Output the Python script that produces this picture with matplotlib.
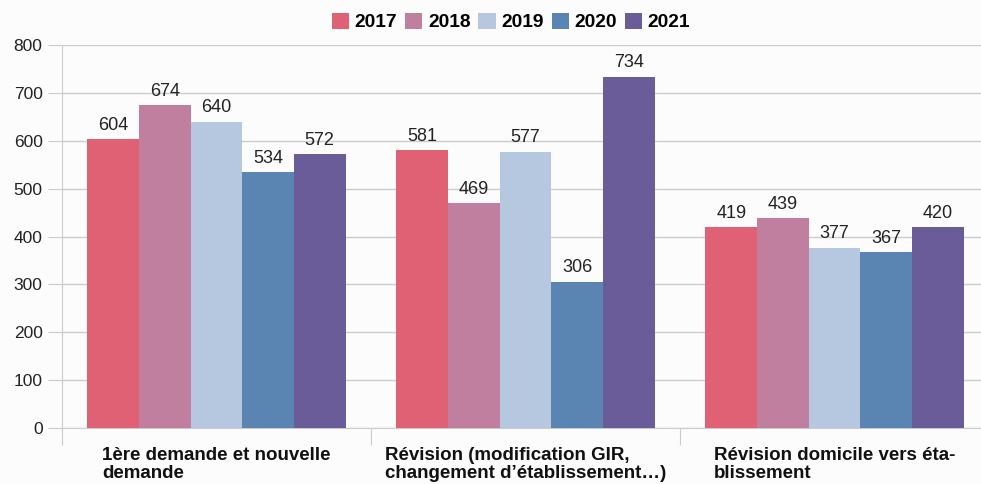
import matplotlib
matplotlib.use("Agg")
import matplotlib.pyplot as plt
import numpy as np
from matplotlib.patches import Patch

categories = ["1ère demande et nouvelle\ndemande",
              "Révision (modification GIR,\nchangement d’établissement…)",
              "Révision domicile vers éta-\nblissement"]
years = ["2017", "2018", "2019", "2020", "2021"]
values = {
    "2017": [604, 581, 419],
    "2018": [674, 469, 439],
    "2019": [640, 577, 377],
    "2020": [534, 306, 367],
    "2021": [572, 734, 420],
}
colors = ["#e06074", "#c07f9e", "#b5c8df", "#5a84b2", "#6a5c98"]
yticks = [0, 100, 200, 300, 400, 500, 600, 700, 800]

plt.rcParams['font.family'] = ['Liberation Sans', 'DejaVu Sans']
fig = plt.figure(figsize=(9.81, 4.84), dpi=100, facecolor="#fcfcfc")
ax = fig.add_axes([62/981, 56/484, (989-62)/981, 383/484])
ax.set_facecolor("#fcfcfc")

x = np.arange(len(categories))
bw = 0.167
for i, y in enumerate(years):
    pos = x + (i - 2) * bw
    bars = ax.bar(pos, values[y], width=bw, color=colors[i], zorder=3)
    for b, v in zip(bars, values[y]):
        ax.text(b.get_x() + b.get_width()/2, v + 11, str(v), ha="center", va="bottom",
                fontsize=13, color="#222222", zorder=4)

ax.set_xlim(-0.5, 2.5)
ax.set_ylim(0, 800)
ax.set_yticks(yticks)
ax.tick_params(axis="y", length=10, color="#cccccc", labelsize=12.5, labelcolor="#222222", pad=4)
ax.grid(axis="y", color="#cccccc", linewidth=1, zorder=0)
for s in ["top", "right"]:
    ax.spines[s].set_visible(False)
ax.spines["left"].set_color("#cccccc")
ax.spines["bottom"].set_color("#cccccc")

ax.set_xticks([-0.5, 0.5, 1.5, 2.5])
ax.set_xticklabels([])
ax.tick_params(axis="x", length=12, color="#cccccc")
for xi, c in zip(x, categories):
    ax.text(xi, -0.05, c, transform=ax.get_xaxis_transform(), ha="center", va="top",
            multialignment="left", fontsize=13.5, fontweight="bold", color="#111111",
            linespacing=1.1)

handles = [Patch(facecolor=c, label=y) for c, y in zip(colors, years)]
fig.legend(handles=handles, loc="center", bbox_to_anchor=(511/981, 1 - 22/484), ncol=5,
           frameon=False, prop={"size": 13.8, "weight": "bold"}, handlelength=0.9,
           handleheight=0.9, handletextpad=0.3, columnspacing=0.4)

fig.savefig("out.png", dpi=100, facecolor=fig.get_facecolor())
